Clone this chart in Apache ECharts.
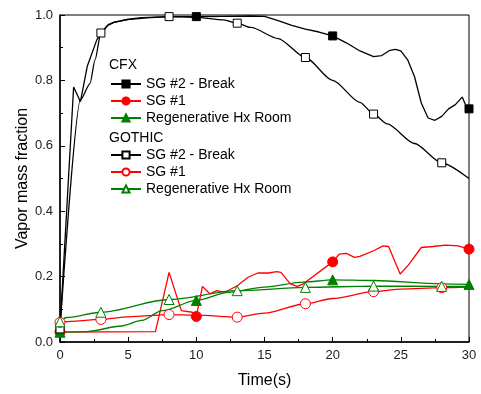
<!DOCTYPE html>
<html>
<head>
<meta charset="utf-8">
<script src="https://cdn.jsdelivr.net/npm/echarts@6/dist/echarts.min.js"></script>
<style>html,body{margin:0;padding:0;background:#fff}#c{width:481px;height:394px}</style>
</head>
<body>
<div id="c"></div>
<script>
// ---- data ----
const cfxBreakX = [0,1.0,1.5,2.0,2.7,3.0,3.5,4,5,6,8,10,12,14,15,16,17,18,19,20,21,22,23,23.6,24.2,24.6,25,25.5,26,26.5,27,27.5,28,28.5,29,29.5,29.8,30];
const cfxBreakY = [0.04,0.78,0.735,0.843,0.924,0.945,0.968,0.978,0.987,0.992,0.995,0.995,0.996,0.997,0.996,0.983,0.968,0.957,0.948,0.936,0.915,0.89,0.873,0.876,0.892,0.895,0.89,0.863,0.812,0.731,0.685,0.678,0.69,0.713,0.726,0.749,0.72,0.713];

const gotBreakX = [0,1.5,2.2,2.57,3,3.6,4,5,6,8,10,12,13,14,16,18,20,22,23,24,26,28,30];
const gotBreakY = [0.04,0.74,0.79,0.863,0.945,0.972,0.978,0.986,0.99,0.995,0.993,0.985,0.975,0.962,0.928,0.87,0.80,0.733,0.697,0.667,0.607,0.548,0.50];

const cfxSg1X = [0,7.0,8.0,8.9,9.7,10,10.45,11,11.5,12.1,13,13.8,14.5,15.3,15.9,16.2,16.9,17.4,17.85,20,20.5,21,21.6,22,23,23.7,24.1,24.95,25.55,26.5,27.35,28.3,29.2,30];
const cfxSg1Y = [0.03,0.032,0.213,0.096,0.091,0.078,0.17,0.147,0.157,0.152,0.172,0.198,0.211,0.211,0.215,0.213,0.178,0.17,0.178,0.245,0.269,0.271,0.259,0.262,0.279,0.294,0.292,0.208,0.235,0.289,0.292,0.296,0.294,0.284];

const gotSg1X = [0,0.3,3,5,8,10,13,15,18,20,23,25,28,30];
const gotSg1Y = [0.06,0.062,0.069,0.077,0.084,0.082,0.076,0.088,0.117,0.133,0.154,0.162,0.166,0.168];

const cfxHxX = [0,2,4.5,6,7.5,10,12.35,15,17.85,20,23,28,30];
const cfxHxY = [0.03,0.032,0.049,0.066,0.096,0.127,0.152,0.168,0.183,0.19,0.188,0.178,0.176];

const gotHxX = [0,0.5,3,8,13,18,23,28,30];
const gotHxY = [0.062,0.075,0.091,0.13,0.157,0.167,0.171,0.17,0.17];

const cfxMarkX = [0,10,20,30];
const gotMarkX = [0,3,8,13,18,23,28];

const xTicks = [0,5,10,15,20,25,30];
const yTicks = [0.0,0.2,0.4,0.6,0.8,1.0];

// ---- build ----
function pts(xs, ys, marks) {
  return xs.map((x, i) => marks.includes(x) ? [x, ys[i]] : {value: [x, ys[i]], symbol: 'none'});
}
const FONT = 'Liberation Sans, Arial, sans-serif';
function mk(name, xs, ys, marks, color, symbol, filled, size, smooth) {
  return {
    name: name, type: 'line', data: pts(xs, ys, marks),
    symbol: symbol, symbolSize: size, showAllSymbol: true,
    smooth: smooth, smoothMonotone: 'x',
    lineStyle: {color: color, width: 1.3},
    itemStyle: {color: filled ? color : '#fff', borderColor: color, borderWidth: 1},
    emphasis: {disabled: true}, animation: false
  };
}
const series = [
  mk('SG #2 - Break', cfxBreakX, cfxBreakY, cfxMarkX, '#000', 'rect', true, 8, false),
  mk('SG #1', cfxSg1X, cfxSg1Y, cfxMarkX, '#ff0000', 'circle', true, 10, false),
  mk('Regenerative Hx Room', cfxHxX, cfxHxY, cfxMarkX, '#008000', 'triangle', true, 10, 0.3),
  mk('SG #2 - Break ', gotBreakX, gotBreakY, gotMarkX, '#000', 'rect', false, 8, 0.25),
  mk('SG #1 ', gotSg1X, gotSg1Y, gotMarkX, '#ff0000', 'circle', false, 10, 0.3),
  mk('Regenerative Hx Room ', gotHxX, gotHxY, gotMarkX, '#008000', 'triangle', false, 10, 0.3)
];
const legendBase = {
  orient: 'vertical', left: 110, padding: 0, itemWidth: 30, itemHeight: 9, itemGap: 3,
  selectedMode: false, formatter: n => n.trim(),
  textStyle: {fontSize: 14, lineHeight: 14, color: '#000', fontFamily: FONT, padding: [0,0,0,0]}
};
const chart = echarts.init(document.getElementById('c'), null, {renderer: 'canvas'});
chart.setOption({
  animation: false,
  backgroundColor: '#fff',
  grid: {left: 60, right: 12, top: 15, bottom: 51, show: true, borderColor: '#000', borderWidth: 1, backgroundColor: 'transparent'},
  xAxis: {
    type: 'value', min: xTicks[0], max: xTicks[xTicks.length-1], interval: 5,
    name: 'Time(s)', nameLocation: 'middle', nameGap: 31,
    nameTextStyle: {fontSize: 16, color: '#000', fontFamily: FONT},
    axisLine: {show: true, onZero: false, lineStyle: {color: '#000', width: 1.5}},
    axisTick: {show: true, inside: true, length: 5, lineStyle: {color: '#000'}},
    minorTick: {show: true, splitNumber: 2, length: 3, lineStyle: {color: '#000'}},
    splitLine: {show: false},
    axisLabel: {fontSize: 13, color: '#222', fontFamily: FONT, margin: 7}
  },
  yAxis: {
    type: 'value', min: yTicks[0], max: yTicks[yTicks.length-1], interval: 0.2,
    name: 'Vapor mass fraction', nameLocation: 'middle', nameGap: 29, nameMoveOverlap: false,
    nameTextStyle: {fontSize: 16, color: '#000', fontFamily: FONT},
    axisLine: {show: true, onZero: false, lineStyle: {color: '#000', width: 1.5}},
    axisTick: {show: true, inside: true, length: 5, lineStyle: {color: '#000'}},
    minorTick: {show: true, splitNumber: 2, length: 3, lineStyle: {color: '#000'}},
    splitLine: {show: false},
    axisLabel: {fontSize: 13, color: '#222', fontFamily: FONT, margin: 7, formatter: v => v.toFixed(1)}
  },
  legend: [
    Object.assign({}, legendBase, {top: 77, data: ['SG #2 - Break', 'SG #1', 'Regenerative Hx Room']}),
    Object.assign({}, legendBase, {top: 148, data: ['SG #2 - Break ', 'SG #1 ', 'Regenerative Hx Room ']})
  ],
  graphic: [
    {type: 'text', left: 109, top: 58, style: {text: 'CFX', fontSize: 14, fill: '#000', fontFamily: FONT}},
    {type: 'text', left: 109, top: 131, style: {text: 'GOTHIC', fontSize: 14, fill: '#000', fontFamily: FONT}}
  ],
  series: series
});
</script>
</body>
</html>
